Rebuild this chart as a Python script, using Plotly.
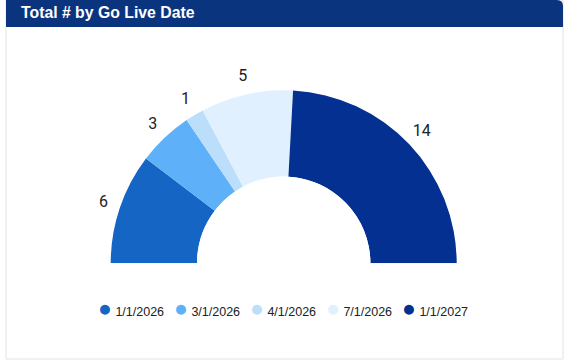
import plotly.graph_objects as go
import numpy as np

labels = ["1/1/2026", "3/1/2026", "4/1/2026", "7/1/2026", "1/1/2027"]
values = [6, 3, 1, 5, 14]
colors = ["#1565C5", "#5EB1F8", "#BBDEFB", "#E1F0FE", "#043092"]
title_text = "Total # by Go Live Date"

W, H = 570, 361
vals = np.array(values, dtype=float)
total = vals.sum()
spans = vals / total * 180.0
ends = np.cumsum(spans)
mids = ends - spans / 2

RMAX = 1.25
fig = go.Figure()
fig.add_trace(go.Barpolar(
    r=[1] * len(values), theta=mids, width=spans,
    marker=dict(color=colors, line=dict(width=0)),
    showlegend=False, hoverinfo="skip",
))
fig.add_trace(go.Scatterpolar(
    r=[1.2] * len(values), theta=mids, mode="text",
    text=[str(v) for v in values],
    textfont=dict(family="Roboto", size=16, color="#222222"),
    cliponaxis=False, showlegend=False, hoverinfo="skip",
))
for lab, col in zip(labels, colors):
    fig.add_trace(go.Scatterpolar(
        r=[None], theta=[None], mode="markers",
        name=f'<span style="font-size:23px;fill:{col}">●</span> {lab}',
        marker=dict(symbol="circle", size=1, color="rgba(0,0,0,0)"),
    ))
# spacer entry so the last legend label is not clipped
fig.add_trace(go.Scatterpolar(
    r=[None], theta=[None], mode="markers", name=" ",
    marker=dict(symbol="circle", size=1, color="rgba(0,0,0,0)"),
))

def px(x):
    return x / W

def py(y):
    return 1 - y / H

cx, cy, r_out, r_in = 283.7, 263.3, 173.0, 86.7
T = r_in + (r_out - r_in) * RMAX
hole = r_in / T

x0, x1, y0, y1, rc = 6, 563, 0, 27, 6
path = (f"M {px(x0)},{py(y1)} L {px(x0)},{py(y0)} L {px(x1-rc)},{py(y0)} "
        f"Q {px(x1)},{py(y0)} {px(x1)},{py(y0+rc)} L {px(x1)},{py(y1)} Z")

fig.update_layout(
    width=W, height=H,
    margin=dict(l=0, r=0, t=0, b=0),
    paper_bgcolor="white", plot_bgcolor="white",
    polar=dict(
        domain=dict(x=[px(cx - T), px(cx + T)], y=[py(cy), py(cy - T)]),
        sector=[0, 180], hole=hole, bgcolor="rgba(0,0,0,0)",
        radialaxis=dict(visible=False, range=[0, RMAX]),
        angularaxis=dict(visible=False, direction="clockwise", rotation=180),
    ),
    showlegend=True,
    legend=dict(orientation="h", x=px(58), xanchor="left", y=py(311), yanchor="middle",
                font=dict(family="Liberation Sans", size=12.5, color="#222222"),
                itemwidth=30, entrywidth=31, entrywidthmode="pixels",
                bgcolor="rgba(0,0,0,0)"),
    shapes=[
        dict(type="rect", xref="paper", yref="paper", x0=px(6), x1=px(563), y0=py(359), y1=py(0),
             line=dict(color="#E2E2E2", width=1), fillcolor="white", layer="below"),
        dict(type="path", xref="paper", yref="paper", path=path,
             fillcolor="#0B347F", line=dict(width=0), layer="below"),
    ],
    annotations=[
        dict(text=f"<b>{title_text}</b>", xref="paper", yref="paper", x=px(19), y=py(13),
             xanchor="left", yanchor="middle", showarrow=False,
             font=dict(family="Liberation Sans", size=15.8, color="white")),
    ],
)

fig.write_html("out.html", config={"displayModeBar": False},
               post_script="document.body.style.margin='0';")
